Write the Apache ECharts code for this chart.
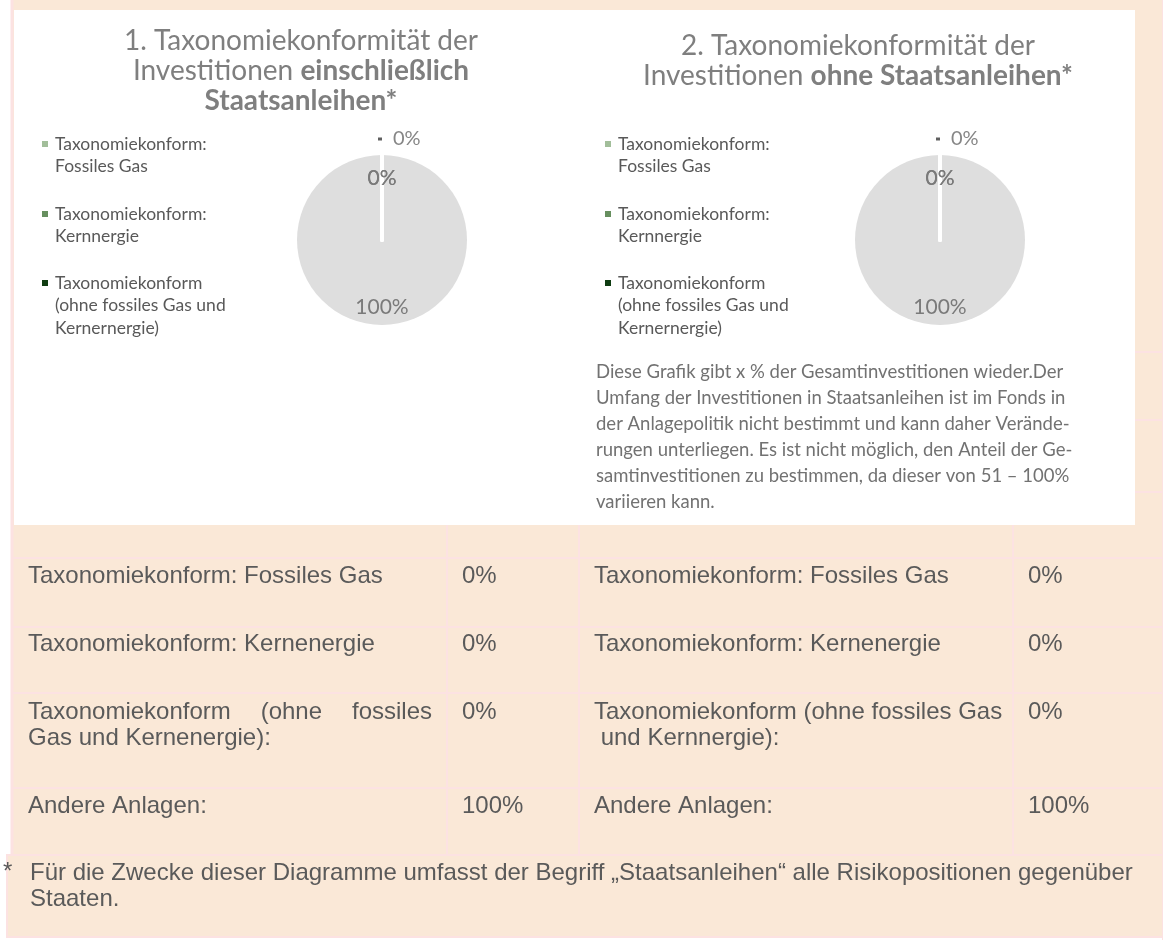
<!DOCTYPE html>
<html>
<head>
<meta charset="utf-8">
<script src="https://cdn.jsdelivr.net/npm/echarts@6/dist/echarts.min.js"></script>
<style>html,body{margin:0;padding:0;background:#fff}#c{width:1163px;height:940px}</style>
</head>
<body>
<div id="c"></div>
<script>
// ---------------- data ----------------
const categories = [
  "Taxonomiekonform: Fossiles Gas",
  "Taxonomiekonform: Kernnergie",
  "Taxonomiekonform (ohne fossiles Gas und Kernernergie)",
  "Andere Anlagen"
];
const legendLines = [
  ["Taxonomiekonform:", "Fossiles Gas"],
  ["Taxonomiekonform:", "Kernnergie"],
  ["Taxonomiekonform", "(ohne fossiles Gas und", "Kernernergie)"]
];
const valuesInclSovereign = [0, 0, 0, 100];
const valuesExclSovereign = [0, 0, 0, 100];
const chartTitle1 = ["1. Taxonomiekonformität der", "Investitionen ", "einschließlich", "Staatsanleihen*"];
const chartTitle2 = ["2. Taxonomiekonformität der", "Investitionen ", "ohne Staatsanleihen*"];
const noteLines = [
  "Diese Grafik gibt x % der Gesamtinvestitionen wieder.Der",
  "Umfang der Investitionen in Staatsanleihen ist im Fonds in",
  "der Anlagepolitik nicht bestimmt und kann daher Verände-",
  "rungen unterliegen. Es ist nicht möglich, den Anteil der Ge-",
  "samtinvestitionen zu bestimmen, da dieser von 51 – 100%",
  "variieren kann."
];
const tableLabelsLeft = [
  ["Taxonomiekonform: Fossiles Gas"],
  ["Taxonomiekonform: Kernenergie"],
  ["Taxonomiekonform (ohne fossiles", "Gas und Kernenergie):"],
  ["Andere Anlagen:"]
];
const tableLabelsRight = [
  ["Taxonomiekonform: Fossiles Gas"],
  ["Taxonomiekonform: Kernenergie"],
  ["Taxonomiekonform (ohne fossiles Gas", " und Kernnergie):"],
  ["Andere Anlagen:"]
];
const footnoteMark = "*";
const footnoteLines = [
  "Für die Zwecke dieser Diagramme umfasst der Begriff „Staatsanleihen“ alle Risikopositionen gegenüber",
  "Staaten."
];

// ---------------- styles / layout ----------------
const sliceColors = ['#A2BE9A', '#678F5F', '#0F3C11', '#DEDEDE'];
const PEACH = '#FAE8D7', PINK = '#FCE2E2';
const UI_FONT = 'Lato, "Open Sans", sans-serif';
const TABLE_FONT = '"Liberation Sans", Arial, sans-serif';
const TABLE_SIZE = 24;
const pieCenters = [[382, 240], [940, 240]];
const pieRadius = 85;
const pieOrder = [3, 0, 1, 2];       // draw "Andere Anlagen" first so the zero-slice borders stay on top
const labelRole = {3: 'bottom', 0: 'outer', 1: 'inner', 2: 'inner'};

const measureCtx = document.createElement('canvas').getContext('2d');
function textWidth(t, font) { measureCtx.font = font; return measureCtx.measureText(t).width; }

function pieSeries(values, si) {
  return {
    type: 'pie',
    center: pieCenters[si],
    radius: pieRadius,
    startAngle: 90,
    clockwise: true,
    avoidLabelOverlap: false,
    percentPrecision: 0,
    silent: true,
    animation: false,
    labelLine: {show: false},
    label: {
      show: true, position: 'inside', formatter: '{d}%',
      fontFamily: UI_FONT, fontSize: 21, color: '#7A7A7A'
    },
    labelLayout: function (p) {
      const [cx, cy] = pieCenters[si];
      const idx = pieOrder[p.dataIndex];
      const role = labelRole[idx];
      if (role === 'bottom') return {x: cx, y: cy + pieRadius * 0.79, align: 'center', verticalAlign: 'middle'};
      if (role === 'inner') return {x: cx, y: cy - pieRadius * 0.73, align: 'center', verticalAlign: 'middle'};
      return {x: cx - 4, y: cy - pieRadius - 16, align: 'left', verticalAlign: 'middle'};
    },
    data: pieOrder.map(i => {
      const item = {
        name: categories[i],
        value: values[i],
        itemStyle: {
          color: sliceColors[i],
          borderColor: '#ffffff',
          borderWidth: values[i] === 0 ? 4 : 0
        }
      };
      if (labelRole[i] === 'outer') {
        item.label = {
          formatter: '{m| }{v|{d}%}',
          rich: {
            m: {width: 4, height: 3, backgroundColor: '#5f5f5f'},
            v: {fontFamily: UI_FONT, fontSize: 20, color: '#868686', padding: [0, 0, 0, 11]}
          }
        };
      }
      return item;
    })
  };
}

// legends: one component per item, so the key sits on the first text line
const LEG_LH = 22.5;
const legendFirstLine = [144, 214, 283];
const legendLefts = [42, 605];
const legends = [];
legendLefts.forEach(lx => {
  legendLines.forEach((lines, i) => {
    const h = lines.length * LEG_LH;
    const a = LEG_LH / 2 - 3, b = LEG_LH / 2 + 3;
    legends.push({
      orient: 'vertical',
      left: lx,
      top: legendFirstLine[i] - LEG_LH / 2,
      padding: 0,
      itemGap: 0,
      itemWidth: 8,
      itemHeight: h,
      selectedMode: false,
      icon: `path://M0 0M0 ${a}H6V${b}H0Z M8 ${h}`,
      itemStyle: {borderWidth: 0, borderColor: 'rgba(0,0,0,0)'},
      data: [categories[i]],
      formatter: () => lines.join('\n'),
      textStyle: {fontFamily: UI_FONT, fontSize: 17.5, lineHeight: LEG_LH, color: '#595959'}
    });
  });
});

// ---------------- graphic: panels, table, notes ----------------
const g = [];
g.push({type: 'rect', z: -20, shape: {x: 12, y: 0, width: 1151, height: 856}, style: {fill: PEACH}});
g.push({type: 'rect', z: -19, shape: {x: 14, y: 10, width: 1121, height: 515}, style: {fill: '#ffffff'}});
g.push({type: 'line', z: -18, shape: {x1: 12, y1: 0, x2: 12, y2: 856}, style: {stroke: PINK, lineWidth: 3}});
g.push({type: 'line', z: -18, shape: {x1: 1162.5, y1: 0, x2: 1162.5, y2: 940}, style: {stroke: PINK, lineWidth: 1}});
[352, 420, 492].forEach(y => g.push({type: 'line', z: -18, shape: {x1: 1135, y1: y, x2: 1162, y2: y}, style: {stroke: PINK, lineWidth: 2}}));
[558, 627, 693, 788].forEach(y => g.push({type: 'line', z: -18, shape: {x1: 13, y1: y, x2: 1163, y2: y}, style: {stroke: PINK, lineWidth: 2}}));
[447, 579, 1013].forEach(x => g.push({type: 'line', z: -18, shape: {x1: x, y1: 525, x2: x, y2: 855}, style: {stroke: PINK, lineWidth: 2}}));
g.push({type: 'rect', z: -17, shape: {x: 7, y: 855, width: 1156, height: 82}, style: {fill: PEACH, stroke: PINK, lineWidth: 2}});

const tFont = `${TABLE_SIZE}px "Liberation Sans", Arial, sans-serif`;
const rowFirstLine = [576, 644, 712, 806];
const TABLE_LH = 26;
function addCell(text, x, y) {
  g.push({type: 'text', z: 10, x: x, y: y,
    style: {text: text, fontFamily: TABLE_FONT, fontSize: TABLE_SIZE, fill: '#5A5A5A', verticalAlign: 'middle', align: 'left'}});
}
function addLabelColumn(labels, x0, rightEdge, justify) {
  labels.forEach((lines, r) => {
    lines.forEach((line, li) => {
      const y = rowFirstLine[r] + li * TABLE_LH;
      if (justify && lines.length > 1 && li < lines.length - 1) {
        const words = line.split(' ');
        const ws = words.map(w => textWidth(w, tFont));
        const gap = (rightEdge - x0 - ws.reduce((s, v) => s + v, 0)) / (words.length - 1);
        let x = x0;
        words.forEach((w, k) => { addCell(w, x, y); x += ws[k] + gap; });
      } else {
        addCell(line, x0, y);
      }
    });
  });
}
addLabelColumn(tableLabelsLeft, 28, 432, true);
addLabelColumn(tableLabelsRight, 594, 1000, false);
valuesInclSovereign.forEach((v, r) => addCell(v + '%', 462, rowFirstLine[r]));
valuesExclSovereign.forEach((v, r) => addCell(v + '%', 1028, rowFirstLine[r]));

addCell(footnoteMark, 3, 872);
footnoteLines.forEach((t, i) => addCell(t, 30, 873 + i * 26));

g.push({type: 'text', z: 10, x: 596, y: 359,
  style: {text: noteLines.join('\n'), fontFamily: UI_FONT, fontSize: 18.5, lineHeight: 26, fill: '#727272', verticalAlign: 'top'}});

// ---------------- option ----------------
const titleRich = {
  a: {fontFamily: UI_FONT, fontSize: 28, fontWeight: 'normal', color: '#7F7F7F', lineHeight: 30},
  b: {fontFamily: UI_FONT, fontSize: 28, fontWeight: 'bold', color: '#7F7F7F', lineHeight: 30}
};
const option = {
  animation: false,
  backgroundColor: '#ffffff',
  title: [
    {
      text: `{a|${chartTitle1[0]}}\n{a|${chartTitle1[1]}}{b|${chartTitle1[2]}}\n{b|${chartTitle1[3]}}`,
      left: 301, top: 26, padding: 0, textAlign: 'center', textVerticalAlign: 'top',
      textStyle: {fontWeight: 'normal', rich: titleRich}
    },
    {
      text: `{a|${chartTitle2[0]}}\n{a|${chartTitle2[1]}}{b|${chartTitle2[2]}}`,
      left: 858, top: 31, padding: 0, textAlign: 'center', textVerticalAlign: 'top',
      textStyle: {fontWeight: 'normal', rich: titleRich}
    }
  ],
  legend: legends,
  graphic: {elements: g},
  series: [pieSeries(valuesInclSovereign, 0), pieSeries(valuesExclSovereign, 1)]
};

const chart = echarts.init(document.getElementById('c'), null, {renderer: 'canvas', width: 1163, height: 940});
chart.setOption(option);
</script>
</body>
</html>
